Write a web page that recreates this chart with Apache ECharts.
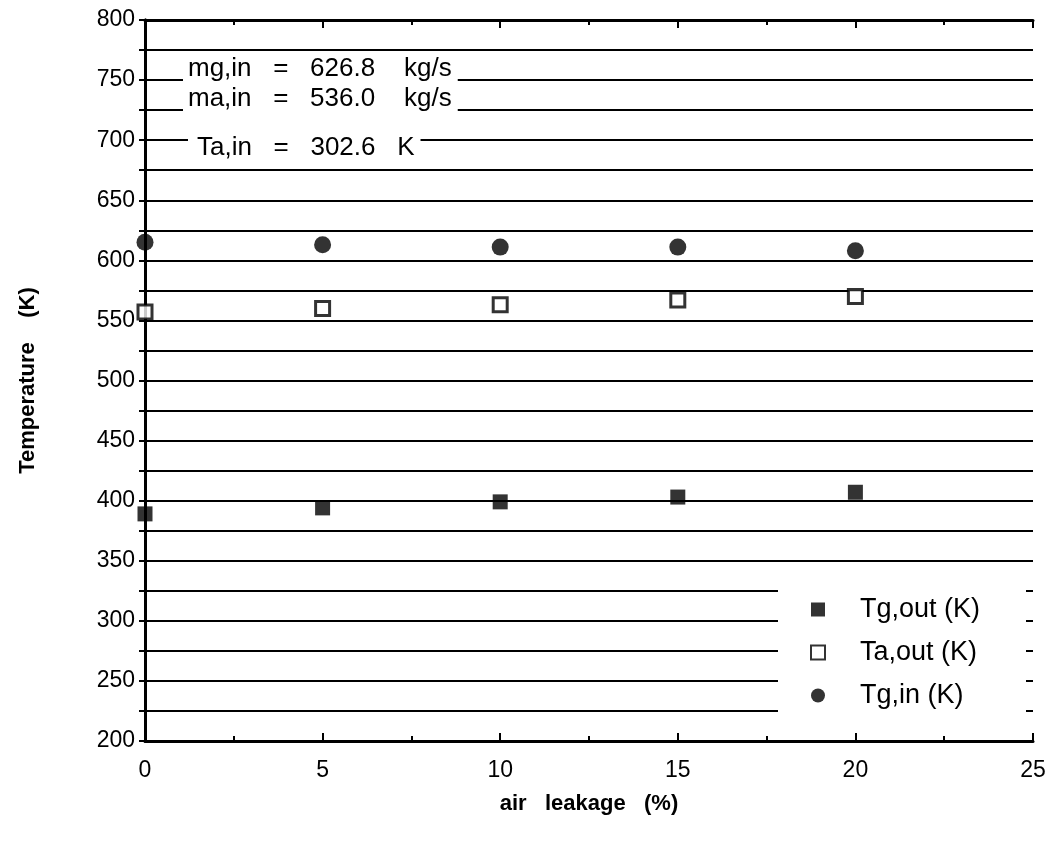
<!DOCTYPE html>
<html>
<head>
<meta charset="utf-8">
<script src="https://cdn.jsdelivr.net/npm/echarts@6/dist/echarts.min.js"></script>
<style>
html,body{margin:0;padding:0;background:#fff;}
#chart{width:1062px;height:856px;}
</style>
</head>
<body>
<div id="chart"></div>
<script>
// ---- data ----
const airLeakage = [0, 5, 10, 15, 20];
const tgOut = [389, 394, 399, 403, 407];
const taOut = [557, 560, 563, 567, 570];
const tgIn  = [615, 613, 611, 611, 608];
const seriesNames = ['Tg,out (K)', 'Ta,out (K)', 'Tg,in (K)'];
const annotations = ['mg,in   =   626.8    kg/s', 'ma,in   =   536.0    kg/s', 'Ta,in   =   302.6   K'];
const xTitle = 'air   leakage   (%)';
const yTitle = 'Temperature    (K)';

const pairs = vals => airLeakage.map((x, i) => [x, vals[i]]);
const FONT = '"Liberation Sans", Arial, Helvetica, sans-serif';

const chart = echarts.init(document.getElementById('chart'), null, {renderer: 'canvas'});

const axisLineStyle = {color: '#000', width: 3};
const option = {
  backgroundColor: '#fff',
  animation: false,
  textStyle: {fontFamily: FONT, color: '#000'},
  grid: {left: 145, right: 29, top: 20, bottom: 115, containLabel: false},
  xAxis: [{
    type: 'value', min: 0, max: 25, interval: 5, position: 'bottom', z: 3,
    axisLine: {show: true, lineStyle: axisLineStyle},
    axisTick: {show: true, inside: true, length: 8, lineStyle: {color: '#000', width: 2}},
    minorTick: {show: true, splitNumber: 2, length: 5, lineStyle: {color: '#000', width: 2}},
    splitLine: {show: false},
    axisLabel: {fontSize: 23, color: '#000', margin: 18, fontFamily: FONT},
    name: xTitle, nameLocation: 'middle', nameGap: 52,
    nameTextStyle: {fontSize: 22, fontWeight: 'bold', color: '#000', fontFamily: FONT}
  }, {
    type: 'value', min: 0, max: 25, interval: 5, position: 'top', z: 3,
    axisLine: {show: true, lineStyle: axisLineStyle},
    axisTick: {show: true, inside: true, length: 8, lineStyle: {color: '#000', width: 2}},
    minorTick: {show: true, splitNumber: 2, length: 5, lineStyle: {color: '#000', width: 2}},
    splitLine: {show: false},
    axisLabel: {show: false}
  }],
  yAxis: [{
    type: 'value', min: 200, max: 800, interval: 25, position: 'left', z: 0,
    axisLine: {show: true, lineStyle: axisLineStyle},
    axisTick: {show: false},
    splitLine: {show: true, lineStyle: {color: '#000', width: 2}},
    axisLabel: {
      fontSize: 23, color: '#000', margin: 10, fontFamily: FONT,
      formatter: v => (v % 50 === 0 ? String(v) : '')
    },
    name: yTitle, nameLocation: 'middle', nameGap: 106, nameRotate: 90,
    nameTextStyle: {fontSize: 22, fontWeight: 'bold', color: '#000', fontFamily: FONT}
  }, {
    type: 'value', min: 200, max: 800, interval: 25, position: 'right', z: 3,
    axisLine: {show: true, lineStyle: axisLineStyle},
    axisTick: {show: true, inside: true, length: 6, lineStyle: {color: '#000', width: 2}},
    splitLine: {show: false},
    axisLabel: {show: false}
  }],
  legend: {
    orient: 'vertical', left: 810, top: 596, itemWidth: 14, itemHeight: 14, itemGap: 16,
    padding: 0,
    data: seriesNames,
    textStyle: {fontSize: 27, lineHeight: 27, color: '#000', fontFamily: FONT, padding: [0, 0, 0, 30]}
  },
  graphic: [
    {type: 'rect', z: 1, shape: {x: 778, y: 572, width: 248, height: 167}, style: {fill: '#fff'}},
    {type: 'text', z: 5, left: 183, top: 54, style: {text: annotations[0], font: '26px ' + FONT, fill: '#000', backgroundColor: '#fff', padding: [2, 6, 4, 5]}},
    {type: 'text', z: 5, left: 183, top: 84, style: {text: annotations[1], font: '26px ' + FONT, fill: '#000', backgroundColor: '#fff', padding: [2, 6, 4, 5]}},
    {type: 'text', z: 5, left: 188, top: 131, style: {text: annotations[2], font: '26px ' + FONT, fill: '#000', backgroundColor: '#fff', padding: [4, 6, 2, 9]}}
  ],
  series: [{
    name: seriesNames[0], type: 'scatter', xAxisIndex: 0, yAxisIndex: 0, z: 6,
    symbol: 'rect', symbolSize: 15,
    itemStyle: {color: '#000'},
    data: pairs(tgOut)
  }, {
    name: seriesNames[1], type: 'scatter', xAxisIndex: 0, yAxisIndex: 0, z: 6,
    symbol: 'rect', symbolSize: 14,
    itemStyle: {color: '#fff', borderColor: '#000', borderWidth: 3},
    data: pairs(taOut)
  }, {
    name: seriesNames[2], type: 'scatter', xAxisIndex: 0, yAxisIndex: 0, z: 6,
    symbol: 'circle', symbolSize: 17,
    itemStyle: {color: '#000'},
    data: pairs(tgIn)
  }]
};
chart.setOption(option);
</script>
</body>
</html>
